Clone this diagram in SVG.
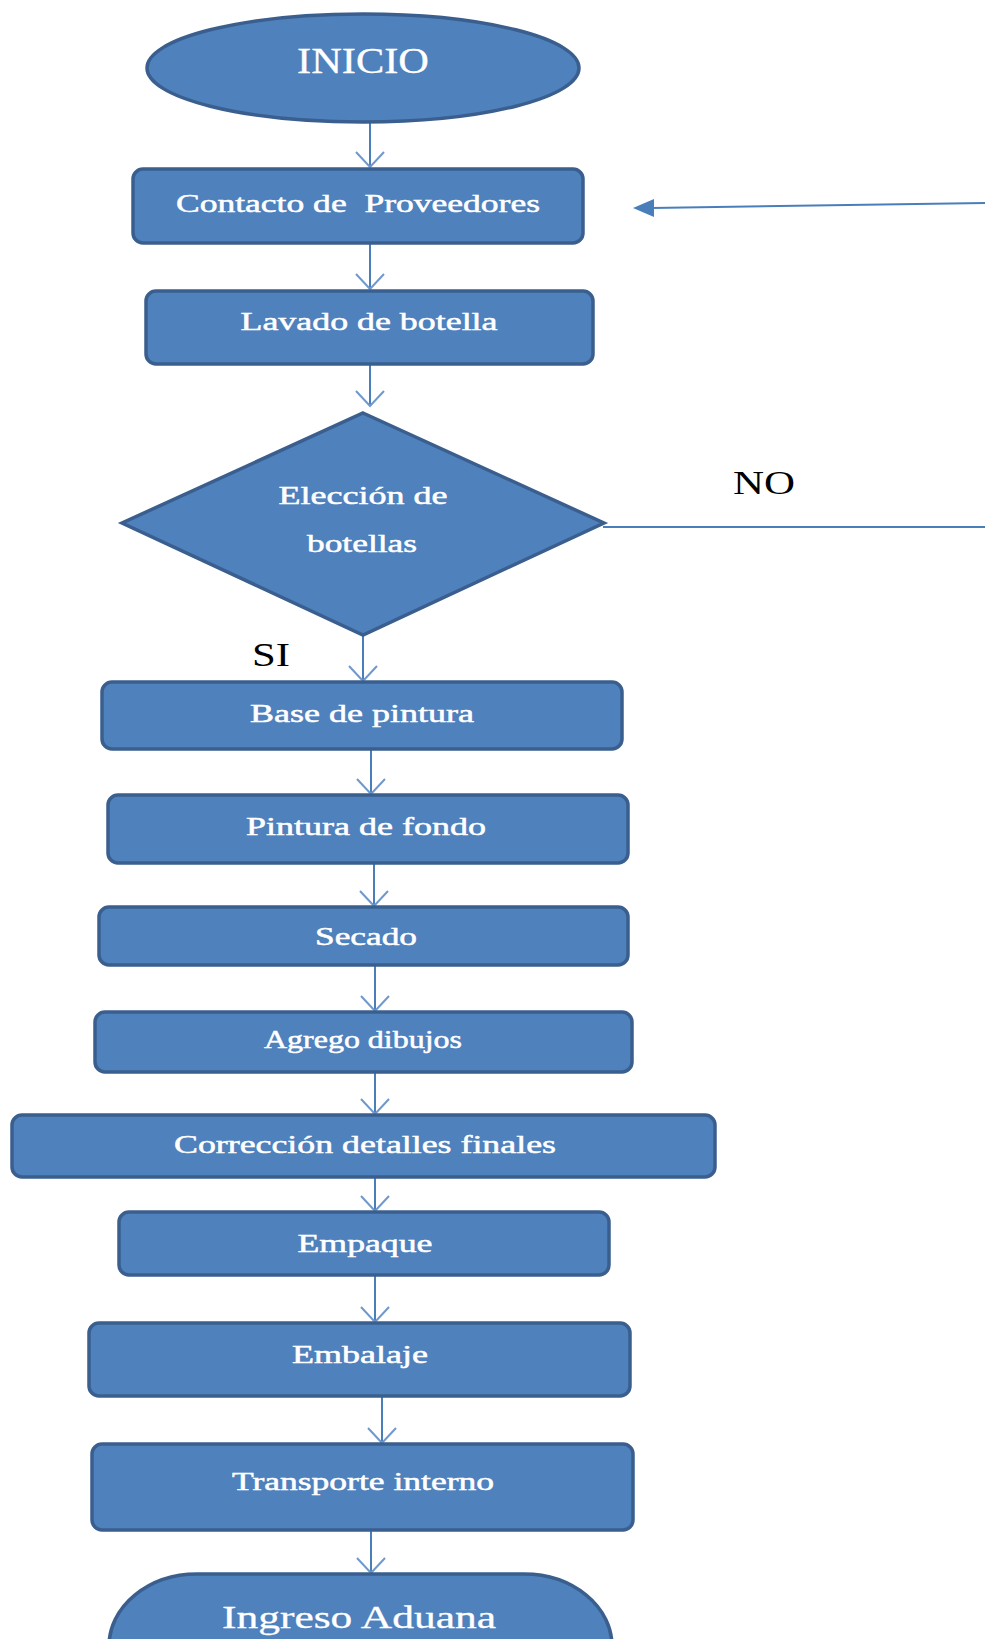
<svg xmlns="http://www.w3.org/2000/svg" width="985" height="1639" viewBox="0 0 985 1639">
<style>
.shape{fill:#4f81bd;stroke:#3a5f8e;stroke-width:3.5}
.t{font-family:"Liberation Serif","Times New Roman",serif;fill:#ffffff;stroke:#ffffff;stroke-width:0.5;text-anchor:middle;font-size:25px}
.lbl{font-family:"Liberation Serif","Times New Roman",serif;fill:#000000;text-anchor:middle;font-size:33px}
.c{stroke:#4a7ebb;stroke-width:2;fill:none}
</style>
<defs>
<marker id="open" markerWidth="20" markerHeight="32" refX="16" refY="16" orient="auto" markerUnits="userSpaceOnUse" viewBox="0 0 20 32">
<path d="M1,2 L16,16 L1,30" stroke="#6f98cc" stroke-width="2" fill="none"/>
</marker>
</defs>
<g id="connectors">
<line class="c" x1="370" y1="123" x2="370" y2="167" marker-end="url(#open)"/>
<line class="c" x1="370" y1="243" x2="370" y2="289" marker-end="url(#open)"/>
<line class="c" x1="370" y1="365" x2="370" y2="406" marker-end="url(#open)"/>
<line class="c" x1="363" y1="635" x2="363" y2="681" marker-end="url(#open)"/>
<line class="c" x1="371" y1="750" x2="371" y2="794" marker-end="url(#open)"/>
<line class="c" x1="374" y1="863" x2="374" y2="906" marker-end="url(#open)"/>
<line class="c" x1="375" y1="965" x2="375" y2="1011" marker-end="url(#open)"/>
<line class="c" x1="375" y1="1072" x2="375" y2="1114" marker-end="url(#open)"/>
<line class="c" x1="375" y1="1177" x2="375" y2="1211" marker-end="url(#open)"/>
<line class="c" x1="375" y1="1275" x2="375" y2="1322" marker-end="url(#open)"/>
<line class="c" x1="382" y1="1396" x2="382" y2="1443" marker-end="url(#open)"/>
<line class="c" x1="371" y1="1530" x2="371" y2="1573" marker-end="url(#open)"/>
<line class="c" x1="603" y1="527" x2="985" y2="527"/>
<line class="c" x1="985" y1="203" x2="652" y2="208"/>
<path d="M633,208 L654,199 L654,217 Z" fill="#4a7ebb"/>
</g>
<g id="inicio">
<ellipse class="shape" cx="363" cy="68" rx="216" ry="54"/>
<text class="t" x="363" y="73" style="font-size:36px;stroke-width:0.3" textLength="132" lengthAdjust="spacingAndGlyphs">INICIO</text>
</g>
<g id="contacto">
<rect class="shape" x="133" y="169" width="450" height="74" rx="10"/>
<text class="t" x="358" y="212" xml:space="preserve" textLength="364" lengthAdjust="spacingAndGlyphs">Contacto de  Proveedores</text>
</g>
<g id="lavado">
<rect class="shape" x="146" y="291" width="447" height="73" rx="10"/>
<text class="t" x="369" y="330" textLength="257" lengthAdjust="spacingAndGlyphs">Lavado de botella</text>
</g>
<g id="eleccion">
<polygon class="shape" points="363,413 604,523 363,635 122,523"/>
<text class="t" x="363" y="504" textLength="169" lengthAdjust="spacingAndGlyphs">Elección de</text>
<text class="t" x="362" y="552" textLength="110" lengthAdjust="spacingAndGlyphs">botellas</text>
</g>
<g id="lbl-no">
<text class="lbl" x="764" y="494" textLength="62" lengthAdjust="spacingAndGlyphs">NO</text>
</g>
<g id="lbl-si">
<text class="lbl" x="271" y="666" textLength="38" lengthAdjust="spacingAndGlyphs">SI</text>
</g>
<g id="base">
<rect class="shape" x="102" y="682" width="520" height="67" rx="10"/>
<text class="t" x="362" y="722" textLength="224" lengthAdjust="spacingAndGlyphs">Base de pintura</text>
</g>
<g id="pintura">
<rect class="shape" x="108" y="795" width="520" height="68" rx="10"/>
<text class="t" x="366" y="835" textLength="240" lengthAdjust="spacingAndGlyphs">Pintura de fondo</text>
</g>
<g id="secado">
<rect class="shape" x="99" y="907" width="529" height="58" rx="10"/>
<text class="t" x="366" y="945" textLength="102" lengthAdjust="spacingAndGlyphs">Secado</text>
</g>
<g id="agrego">
<rect class="shape" x="95" y="1012" width="537" height="60" rx="10"/>
<text class="t" x="363" y="1048" textLength="198" lengthAdjust="spacingAndGlyphs">Agrego dibujos</text>
</g>
<g id="correccion">
<rect class="shape" x="12" y="1115" width="703" height="62" rx="10"/>
<text class="t" x="365" y="1153" textLength="382" lengthAdjust="spacingAndGlyphs">Corrección detalles finales</text>
</g>
<g id="empaque">
<rect class="shape" x="119" y="1212" width="490" height="63" rx="10"/>
<text class="t" x="365" y="1252" textLength="135" lengthAdjust="spacingAndGlyphs">Empaque</text>
</g>
<g id="embalaje">
<rect class="shape" x="89" y="1323" width="541" height="73" rx="10"/>
<text class="t" x="360" y="1363" textLength="136" lengthAdjust="spacingAndGlyphs">Embalaje</text>
</g>
<g id="transporte">
<rect class="shape" x="92" y="1444" width="541" height="86" rx="10"/>
<text class="t" x="363" y="1490" textLength="262" lengthAdjust="spacingAndGlyphs">Transporte interno</text>
</g>
<g id="ingreso">
<rect class="shape" x="109" y="1574" width="503" height="150" rx="88" ry="72"/>
<text class="t" x="359" y="1628" style="font-size:32px;stroke-width:0.3" textLength="274" lengthAdjust="spacingAndGlyphs">Ingreso Aduana</text>
</g>
</svg>
